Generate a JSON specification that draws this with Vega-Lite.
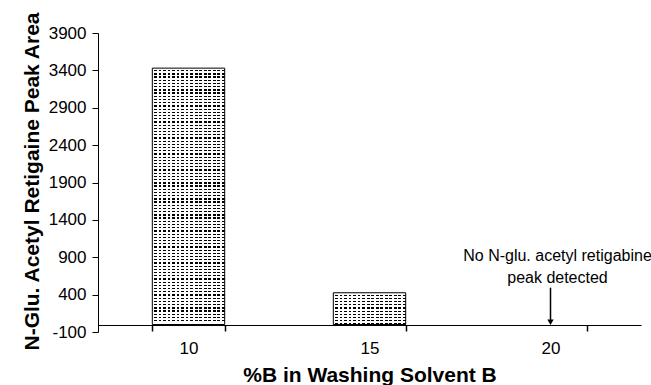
{
  "$schema": "https://vega.github.io/schema/vega-lite/v6.json",
  "autosize": "none",
  "width": 543,
  "height": 299,
  "padding": {"left": 98, "top": 33, "right": 10, "bottom": 53},
  "background": "white",
  "config": {
    "view": {"stroke": null},
    "font": "Liberation Sans",
    "axis": {
      "grid": false,
      "labelOverlap": false,
      "labelFont": "Liberation Sans",
      "labelFontSize": 17,
      "labelColor": "#000",
      "domainColor": "#000",
      "tickColor": "#000",
      "titleFont": "Liberation Sans",
      "titleFontWeight": "bold",
      "titleFontSize": 21,
      "titleColor": "#000"
    },
    "axisY": {"labelOverlap": false, "tickSize": 6, "labelPadding": 6, "labelExpr": "'' + datum.value"}
  },
  "data": {
    "values": [
      {"pct": "10", "area": 3430},
      {"pct": "15", "area": 425},
      {"pct": "20", "area": 0}
    ]
  },
  "encoding": {
    "x": {
      "field": "pct",
      "type": "ordinal",
      "scale": {"paddingInner": 0.6, "paddingOuter": 0.3},
      "axis": {
        "title": "%B in Washing Solvent B",
        "titleFont": "Liberation Sans",
        "titleFontWeight": "bold",
        "titleFontSize": 21,
        "titleColor": "#000",
        "titleBaseline": "middle",
        "titleY": 50,
        "labelFont": "Liberation Sans",
        "labelFontSize": 17,
        "labelColor": "#000",
        "labelAngle": 0,
        "domainColor": "#000",
        "tickColor": "#000",
        "tickBand": "extent",
        "tickSize": 6,
        "tickWidth": 1.5,
        "labelPadding": 9,
        "offset": -7
      }
    },
    "y": {
      "field": "area",
      "type": "quantitative",
      "scale": {"domain": [-100, 3900], "nice": false, "zero": false},
      "axis": {
        "title": "N-Glu. Acetyl Retigaine Peak Area",
        "titleFont": "Liberation Sans",
        "titleFontWeight": "bold",
        "titleFontSize": 21,
        "titleColor": "#000",
        "titleX": -56,
        "titleY": 148,
        "values": [-100, 400, 900, 1400, 1900, 2400, 2900, 3400, 3900],
        "labelExpr": "'' + datum.value",
        "labelOverlap": false,
        "labelFont": "Liberation Sans",
        "labelFontSize": 17,
        "labelColor": "#000",
        "domainColor": "#000",
        "tickColor": "#000",
        "tickSize": 6,
        "labelPadding": 6
      }
    }
  },
  "layer": [
    {
      "transform": [{"filter": "datum.area > 0"}],
      "mark": {"type": "bar"},
      "encoding": {
        "y2": {"datum": 0},
        "fill": {
          "condition": {
            "test": "datum.pct == '10'",
            "value": {
              "gradient": "linear", "x1": 0, "y1": 0, "x2": 0, "y2": 1,
              "stops": [
                {"offset":0,"color":"#fff"},{"offset":0.0075,"color":"#fff"},{"offset":0.0075,"color":"#000"},{"offset":0.0125,"color":"#000"},
                {"offset":0.0125,"color":"#fff"},{"offset":0.02,"color":"#fff"},{"offset":0.02,"color":"#000"},{"offset":0.025,"color":"#000"},
                {"offset":0.025,"color":"#fff"},{"offset":0.0325,"color":"#fff"},{"offset":0.0325,"color":"#000"},{"offset":0.0375,"color":"#000"},
                {"offset":0.0375,"color":"#fff"},{"offset":0.045,"color":"#fff"},{"offset":0.045,"color":"#000"},{"offset":0.05,"color":"#000"},
                {"offset":0.05,"color":"#fff"},{"offset":0.0575,"color":"#fff"},{"offset":0.0575,"color":"#000"},{"offset":0.0625,"color":"#000"},
                {"offset":0.0625,"color":"#fff"},{"offset":0.07,"color":"#fff"},{"offset":0.07,"color":"#000"},{"offset":0.075,"color":"#000"},
                {"offset":0.075,"color":"#fff"},{"offset":0.0825,"color":"#fff"},{"offset":0.0825,"color":"#000"},{"offset":0.0875,"color":"#000"},
                {"offset":0.0875,"color":"#fff"},{"offset":0.095,"color":"#fff"},{"offset":0.095,"color":"#000"},{"offset":0.1,"color":"#000"},
                {"offset":0.1,"color":"#fff"},{"offset":0.1075,"color":"#fff"},{"offset":0.1075,"color":"#000"},{"offset":0.1125,"color":"#000"},
                {"offset":0.1125,"color":"#fff"},{"offset":0.12,"color":"#fff"},{"offset":0.12,"color":"#000"},{"offset":0.125,"color":"#000"},
                {"offset":0.125,"color":"#fff"},{"offset":0.1325,"color":"#fff"},{"offset":0.1325,"color":"#000"},{"offset":0.1375,"color":"#000"},
                {"offset":0.1375,"color":"#fff"},{"offset":0.145,"color":"#fff"},{"offset":0.145,"color":"#000"},{"offset":0.15,"color":"#000"},
                {"offset":0.15,"color":"#fff"},{"offset":0.1575,"color":"#fff"},{"offset":0.1575,"color":"#000"},{"offset":0.1625,"color":"#000"},
                {"offset":0.1625,"color":"#fff"},{"offset":0.17,"color":"#fff"},{"offset":0.17,"color":"#000"},{"offset":0.175,"color":"#000"},
                {"offset":0.175,"color":"#fff"},{"offset":0.1825,"color":"#fff"},{"offset":0.1825,"color":"#000"},{"offset":0.1875,"color":"#000"},
                {"offset":0.1875,"color":"#fff"},{"offset":0.195,"color":"#fff"},{"offset":0.195,"color":"#000"},{"offset":0.2,"color":"#000"},
                {"offset":0.2,"color":"#fff"},{"offset":0.2075,"color":"#fff"},{"offset":0.2075,"color":"#000"},{"offset":0.2125,"color":"#000"},
                {"offset":0.2125,"color":"#fff"},{"offset":0.22,"color":"#fff"},{"offset":0.22,"color":"#000"},{"offset":0.225,"color":"#000"},
                {"offset":0.225,"color":"#fff"},{"offset":0.2325,"color":"#fff"},{"offset":0.2325,"color":"#000"},{"offset":0.2375,"color":"#000"},
                {"offset":0.2375,"color":"#fff"},{"offset":0.245,"color":"#fff"},{"offset":0.245,"color":"#000"},{"offset":0.25,"color":"#000"},
                {"offset":0.25,"color":"#fff"},{"offset":0.2575,"color":"#fff"},{"offset":0.2575,"color":"#000"},{"offset":0.2625,"color":"#000"},
                {"offset":0.2625,"color":"#fff"},{"offset":0.27,"color":"#fff"},{"offset":0.27,"color":"#000"},{"offset":0.275,"color":"#000"},
                {"offset":0.275,"color":"#fff"},{"offset":0.2825,"color":"#fff"},{"offset":0.2825,"color":"#000"},{"offset":0.2875,"color":"#000"},
                {"offset":0.2875,"color":"#fff"},{"offset":0.295,"color":"#fff"},{"offset":0.295,"color":"#000"},{"offset":0.3,"color":"#000"},
                {"offset":0.3,"color":"#fff"},{"offset":0.3075,"color":"#fff"},{"offset":0.3075,"color":"#000"},{"offset":0.3125,"color":"#000"},
                {"offset":0.3125,"color":"#fff"},{"offset":0.32,"color":"#fff"},{"offset":0.32,"color":"#000"},{"offset":0.325,"color":"#000"},
                {"offset":0.325,"color":"#fff"},{"offset":0.3325,"color":"#fff"},{"offset":0.3325,"color":"#000"},{"offset":0.3375,"color":"#000"},
                {"offset":0.3375,"color":"#fff"},{"offset":0.345,"color":"#fff"},{"offset":0.345,"color":"#000"},{"offset":0.35,"color":"#000"},
                {"offset":0.35,"color":"#fff"},{"offset":0.3575,"color":"#fff"},{"offset":0.3575,"color":"#000"},{"offset":0.3625,"color":"#000"},
                {"offset":0.3625,"color":"#fff"},{"offset":0.37,"color":"#fff"},{"offset":0.37,"color":"#000"},{"offset":0.375,"color":"#000"},
                {"offset":0.375,"color":"#fff"},{"offset":0.3825,"color":"#fff"},{"offset":0.3825,"color":"#000"},{"offset":0.3875,"color":"#000"},
                {"offset":0.3875,"color":"#fff"},{"offset":0.395,"color":"#fff"},{"offset":0.395,"color":"#000"},{"offset":0.4,"color":"#000"},
                {"offset":0.4,"color":"#fff"},{"offset":0.4075,"color":"#fff"},{"offset":0.4075,"color":"#000"},{"offset":0.4125,"color":"#000"},
                {"offset":0.4125,"color":"#fff"},{"offset":0.42,"color":"#fff"},{"offset":0.42,"color":"#000"},{"offset":0.425,"color":"#000"},
                {"offset":0.425,"color":"#fff"},{"offset":0.4325,"color":"#fff"},{"offset":0.4325,"color":"#000"},{"offset":0.4375,"color":"#000"},
                {"offset":0.4375,"color":"#fff"},{"offset":0.445,"color":"#fff"},{"offset":0.445,"color":"#000"},{"offset":0.45,"color":"#000"},
                {"offset":0.45,"color":"#fff"},{"offset":0.4575,"color":"#fff"},{"offset":0.4575,"color":"#000"},{"offset":0.4625,"color":"#000"},
                {"offset":0.4625,"color":"#fff"},{"offset":0.47,"color":"#fff"},{"offset":0.47,"color":"#000"},{"offset":0.475,"color":"#000"},
                {"offset":0.475,"color":"#fff"},{"offset":0.4825,"color":"#fff"},{"offset":0.4825,"color":"#000"},{"offset":0.4875,"color":"#000"},
                {"offset":0.4875,"color":"#fff"},{"offset":0.495,"color":"#fff"},{"offset":0.495,"color":"#000"},{"offset":0.5,"color":"#000"},
                {"offset":0.5,"color":"#fff"},{"offset":0.5075,"color":"#fff"},{"offset":0.5075,"color":"#000"},{"offset":0.5125,"color":"#000"},
                {"offset":0.5125,"color":"#fff"},{"offset":0.52,"color":"#fff"},{"offset":0.52,"color":"#000"},{"offset":0.525,"color":"#000"},
                {"offset":0.525,"color":"#fff"},{"offset":0.5325,"color":"#fff"},{"offset":0.5325,"color":"#000"},{"offset":0.5375,"color":"#000"},
                {"offset":0.5375,"color":"#fff"},{"offset":0.545,"color":"#fff"},{"offset":0.545,"color":"#000"},{"offset":0.55,"color":"#000"},
                {"offset":0.55,"color":"#fff"},{"offset":0.5575,"color":"#fff"},{"offset":0.5575,"color":"#000"},{"offset":0.5625,"color":"#000"},
                {"offset":0.5625,"color":"#fff"},{"offset":0.57,"color":"#fff"},{"offset":0.57,"color":"#000"},{"offset":0.575,"color":"#000"},
                {"offset":0.575,"color":"#fff"},{"offset":0.5825,"color":"#fff"},{"offset":0.5825,"color":"#000"},{"offset":0.5875,"color":"#000"},
                {"offset":0.5875,"color":"#fff"},{"offset":0.595,"color":"#fff"},{"offset":0.595,"color":"#000"},{"offset":0.6,"color":"#000"},
                {"offset":0.6,"color":"#fff"},{"offset":0.6075,"color":"#fff"},{"offset":0.6075,"color":"#000"},{"offset":0.6125,"color":"#000"},
                {"offset":0.6125,"color":"#fff"},{"offset":0.62,"color":"#fff"},{"offset":0.62,"color":"#000"},{"offset":0.625,"color":"#000"},
                {"offset":0.625,"color":"#fff"},{"offset":0.6325,"color":"#fff"},{"offset":0.6325,"color":"#000"},{"offset":0.6375,"color":"#000"},
                {"offset":0.6375,"color":"#fff"},{"offset":0.645,"color":"#fff"},{"offset":0.645,"color":"#000"},{"offset":0.65,"color":"#000"},
                {"offset":0.65,"color":"#fff"},{"offset":0.6575,"color":"#fff"},{"offset":0.6575,"color":"#000"},{"offset":0.6625,"color":"#000"},
                {"offset":0.6625,"color":"#fff"},{"offset":0.67,"color":"#fff"},{"offset":0.67,"color":"#000"},{"offset":0.675,"color":"#000"},
                {"offset":0.675,"color":"#fff"},{"offset":0.6825,"color":"#fff"},{"offset":0.6825,"color":"#000"},{"offset":0.6875,"color":"#000"},
                {"offset":0.6875,"color":"#fff"},{"offset":0.695,"color":"#fff"},{"offset":0.695,"color":"#000"},{"offset":0.7,"color":"#000"},
                {"offset":0.7,"color":"#fff"},{"offset":0.7075,"color":"#fff"},{"offset":0.7075,"color":"#000"},{"offset":0.7125,"color":"#000"},
                {"offset":0.7125,"color":"#fff"},{"offset":0.72,"color":"#fff"},{"offset":0.72,"color":"#000"},{"offset":0.725,"color":"#000"},
                {"offset":0.725,"color":"#fff"},{"offset":0.7325,"color":"#fff"},{"offset":0.7325,"color":"#000"},{"offset":0.7375,"color":"#000"},
                {"offset":0.7375,"color":"#fff"},{"offset":0.745,"color":"#fff"},{"offset":0.745,"color":"#000"},{"offset":0.75,"color":"#000"},
                {"offset":0.75,"color":"#fff"},{"offset":0.7575,"color":"#fff"},{"offset":0.7575,"color":"#000"},{"offset":0.7625,"color":"#000"},
                {"offset":0.7625,"color":"#fff"},{"offset":0.77,"color":"#fff"},{"offset":0.77,"color":"#000"},{"offset":0.775,"color":"#000"},
                {"offset":0.775,"color":"#fff"},{"offset":0.7825,"color":"#fff"},{"offset":0.7825,"color":"#000"},{"offset":0.7875,"color":"#000"},
                {"offset":0.7875,"color":"#fff"},{"offset":0.795,"color":"#fff"},{"offset":0.795,"color":"#000"},{"offset":0.8,"color":"#000"},
                {"offset":0.8,"color":"#fff"},{"offset":0.8075,"color":"#fff"},{"offset":0.8075,"color":"#000"},{"offset":0.8125,"color":"#000"},
                {"offset":0.8125,"color":"#fff"},{"offset":0.82,"color":"#fff"},{"offset":0.82,"color":"#000"},{"offset":0.825,"color":"#000"},
                {"offset":0.825,"color":"#fff"},{"offset":0.8325,"color":"#fff"},{"offset":0.8325,"color":"#000"},{"offset":0.8375,"color":"#000"},
                {"offset":0.8375,"color":"#fff"},{"offset":0.845,"color":"#fff"},{"offset":0.845,"color":"#000"},{"offset":0.85,"color":"#000"},
                {"offset":0.85,"color":"#fff"},{"offset":0.8575,"color":"#fff"},{"offset":0.8575,"color":"#000"},{"offset":0.8625,"color":"#000"},
                {"offset":0.8625,"color":"#fff"},{"offset":0.87,"color":"#fff"},{"offset":0.87,"color":"#000"},{"offset":0.875,"color":"#000"},
                {"offset":0.875,"color":"#fff"},{"offset":0.8825,"color":"#fff"},{"offset":0.8825,"color":"#000"},{"offset":0.8875,"color":"#000"},
                {"offset":0.8875,"color":"#fff"},{"offset":0.895,"color":"#fff"},{"offset":0.895,"color":"#000"},{"offset":0.9,"color":"#000"},
                {"offset":0.9,"color":"#fff"},{"offset":0.9075,"color":"#fff"},{"offset":0.9075,"color":"#000"},{"offset":0.9125,"color":"#000"},
                {"offset":0.9125,"color":"#fff"},{"offset":0.92,"color":"#fff"},{"offset":0.92,"color":"#000"},{"offset":0.925,"color":"#000"},
                {"offset":0.925,"color":"#fff"},{"offset":0.9325,"color":"#fff"},{"offset":0.9325,"color":"#000"},{"offset":0.9375,"color":"#000"},
                {"offset":0.9375,"color":"#fff"},{"offset":0.945,"color":"#fff"},{"offset":0.945,"color":"#000"},{"offset":0.95,"color":"#000"},
                {"offset":0.95,"color":"#fff"},{"offset":0.9575,"color":"#fff"},{"offset":0.9575,"color":"#000"},{"offset":0.9625,"color":"#000"},
                {"offset":0.9625,"color":"#fff"},{"offset":0.97,"color":"#fff"},{"offset":0.97,"color":"#000"},{"offset":0.975,"color":"#000"},
                {"offset":0.975,"color":"#fff"},{"offset":0.9825,"color":"#fff"},{"offset":0.9825,"color":"#000"},{"offset":0.9875,"color":"#000"},
                {"offset":0.9875,"color":"#fff"},{"offset":1,"color":"#fff"}
              ]
            }
          },
          "value": {
            "gradient": "linear", "x1": 0, "y1": 0, "x2": 0, "y2": 1,
            "stops": [
              {"offset":0,"color":"#fff"},{"offset":0.06,"color":"#fff"},{"offset":0.06,"color":"#000"},{"offset":0.1,"color":"#000"},
              {"offset":0.1,"color":"#fff"},{"offset":0.16,"color":"#fff"},{"offset":0.16,"color":"#000"},{"offset":0.2,"color":"#000"},
              {"offset":0.2,"color":"#fff"},{"offset":0.26,"color":"#fff"},{"offset":0.26,"color":"#000"},{"offset":0.3,"color":"#000"},
              {"offset":0.3,"color":"#fff"},{"offset":0.36,"color":"#fff"},{"offset":0.36,"color":"#000"},{"offset":0.4,"color":"#000"},
              {"offset":0.4,"color":"#fff"},{"offset":0.46,"color":"#fff"},{"offset":0.46,"color":"#000"},{"offset":0.5,"color":"#000"},
              {"offset":0.5,"color":"#fff"},{"offset":0.56,"color":"#fff"},{"offset":0.56,"color":"#000"},{"offset":0.6,"color":"#000"},
              {"offset":0.6,"color":"#fff"},{"offset":0.66,"color":"#fff"},{"offset":0.66,"color":"#000"},{"offset":0.7,"color":"#000"},
              {"offset":0.7,"color":"#fff"},{"offset":0.76,"color":"#fff"},{"offset":0.76,"color":"#000"},{"offset":0.8,"color":"#000"},
              {"offset":0.8,"color":"#fff"},{"offset":0.86,"color":"#fff"},{"offset":0.86,"color":"#000"},{"offset":0.9,"color":"#000"},
              {"offset":0.9,"color":"#fff"},{"offset":0.96,"color":"#fff"},{"offset":0.96,"color":"#000"},{"offset":1,"color":"#000"}
            ]
          }
        }
      }
    },
    {
      "transform": [{"filter": "datum.area > 0"}],
      "mark": {
        "type": "bar",
        "stroke": "#000",
        "strokeWidth": 1,
        "fill": {
          "gradient": "linear", "x1": 0, "y1": 0, "x2": 1, "y2": 0,
          "stops": [
            {"offset":0,"color":"#fff"},{"offset":0.025,"color":"#fff"},{"offset":0.025,"color":"rgba(255,255,255,0)"},{"offset":0.0625,"color":"rgba(255,255,255,0)"},
            {"offset":0.0625,"color":"#fff"},{"offset":0.0875,"color":"#fff"},{"offset":0.0875,"color":"rgba(255,255,255,0)"},{"offset":0.125,"color":"rgba(255,255,255,0)"},
            {"offset":0.125,"color":"#fff"},{"offset":0.15,"color":"#fff"},{"offset":0.15,"color":"rgba(255,255,255,0)"},{"offset":0.1875,"color":"rgba(255,255,255,0)"},
            {"offset":0.1875,"color":"#fff"},{"offset":0.2125,"color":"#fff"},{"offset":0.2125,"color":"rgba(255,255,255,0)"},{"offset":0.25,"color":"rgba(255,255,255,0)"},
            {"offset":0.25,"color":"#fff"},{"offset":0.275,"color":"#fff"},{"offset":0.275,"color":"rgba(255,255,255,0)"},{"offset":0.3125,"color":"rgba(255,255,255,0)"},
            {"offset":0.3125,"color":"#fff"},{"offset":0.3375,"color":"#fff"},{"offset":0.3375,"color":"rgba(255,255,255,0)"},{"offset":0.375,"color":"rgba(255,255,255,0)"},
            {"offset":0.375,"color":"#fff"},{"offset":0.4,"color":"#fff"},{"offset":0.4,"color":"rgba(255,255,255,0)"},{"offset":0.4375,"color":"rgba(255,255,255,0)"},
            {"offset":0.4375,"color":"#fff"},{"offset":0.4625,"color":"#fff"},{"offset":0.4625,"color":"rgba(255,255,255,0)"},{"offset":0.5,"color":"rgba(255,255,255,0)"},
            {"offset":0.5,"color":"#fff"},{"offset":0.525,"color":"#fff"},{"offset":0.525,"color":"rgba(255,255,255,0)"},{"offset":0.5625,"color":"rgba(255,255,255,0)"},
            {"offset":0.5625,"color":"#fff"},{"offset":0.5875,"color":"#fff"},{"offset":0.5875,"color":"rgba(255,255,255,0)"},{"offset":0.625,"color":"rgba(255,255,255,0)"},
            {"offset":0.625,"color":"#fff"},{"offset":0.65,"color":"#fff"},{"offset":0.65,"color":"rgba(255,255,255,0)"},{"offset":0.6875,"color":"rgba(255,255,255,0)"},
            {"offset":0.6875,"color":"#fff"},{"offset":0.7125,"color":"#fff"},{"offset":0.7125,"color":"rgba(255,255,255,0)"},{"offset":0.75,"color":"rgba(255,255,255,0)"},
            {"offset":0.75,"color":"#fff"},{"offset":0.775,"color":"#fff"},{"offset":0.775,"color":"rgba(255,255,255,0)"},{"offset":0.8125,"color":"rgba(255,255,255,0)"},
            {"offset":0.8125,"color":"#fff"},{"offset":0.8375,"color":"#fff"},{"offset":0.8375,"color":"rgba(255,255,255,0)"},{"offset":0.875,"color":"rgba(255,255,255,0)"},
            {"offset":0.875,"color":"#fff"},{"offset":0.9,"color":"#fff"},{"offset":0.9,"color":"rgba(255,255,255,0)"},{"offset":0.9375,"color":"rgba(255,255,255,0)"},
            {"offset":0.9375,"color":"#fff"},{"offset":0.9625,"color":"#fff"},{"offset":0.9625,"color":"rgba(255,255,255,0)"},{"offset":1,"color":"rgba(255,255,255,0)"}
          ]
        }
      },
      "encoding": {
        "y2": {"datum": 0}
      }
    },
    {
      "transform": [{"filter": "datum.pct == '20'"}],
      "mark": {"type": "rule", "color": "#000", "strokeWidth": 1.5},
      "encoding": {
        "y": {"datum": 493, "type": "quantitative"},
        "y2": {"datum": 60}
      }
    },
    {
      "transform": [{"filter": "datum.pct == '20'"}],
      "mark": {"type": "point", "shape": "triangle-down", "filled": true, "color": "#000", "size": 40, "opacity": 1},
      "encoding": {
        "y": {"datum": 30, "type": "quantitative"}
      }
    },
    {
      "transform": [{"filter": "datum.pct == '20'"}],
      "mark": {
        "type": "text",
        "text": ["No N-glu. acetyl retigabine", "peak detected"],
        "font": "Liberation Sans",
        "fontSize": 16,
        "lineHeight": 22,
        "align": "center",
        "baseline": "top",
        "dx": 7,
        "color": "#000"
      },
      "encoding": {
        "y": {"datum": 1030, "type": "quantitative"}
      }
    }
  ]
}
